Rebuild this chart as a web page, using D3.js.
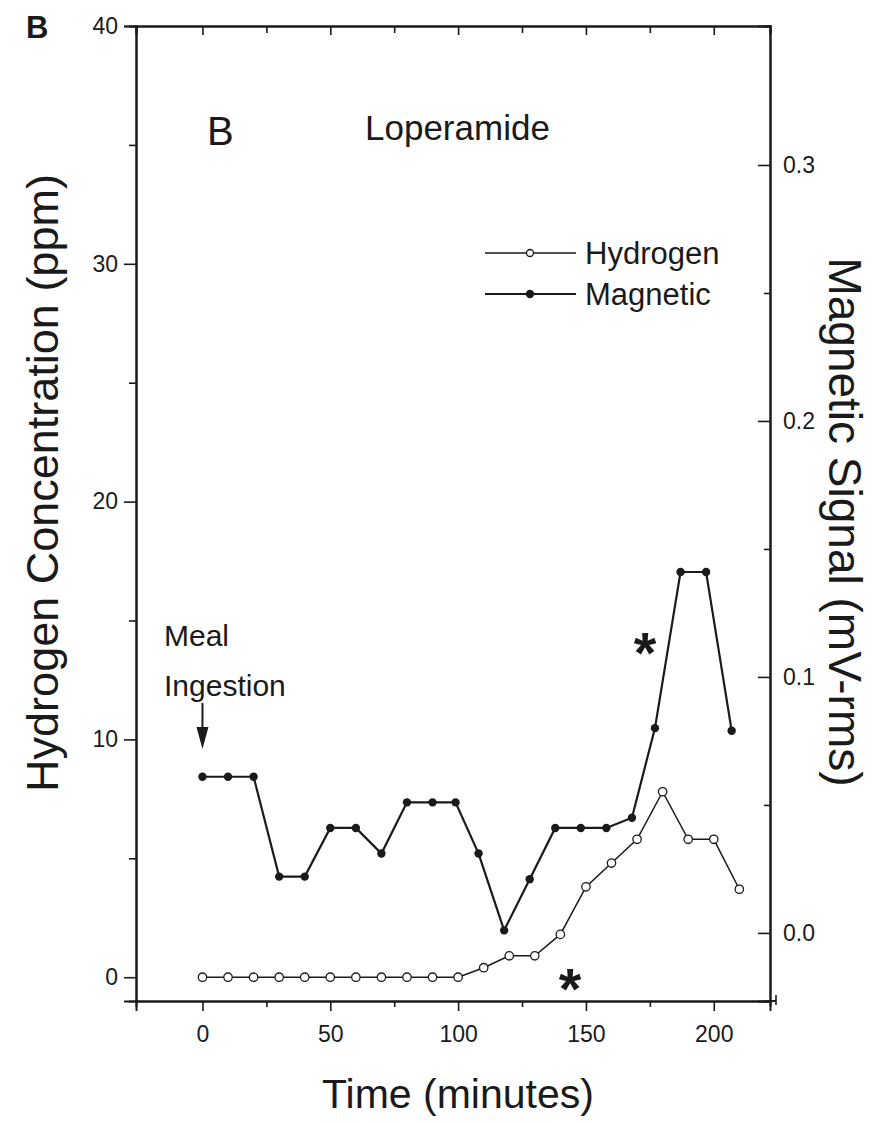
<!DOCTYPE html>
<html>
<head>
<meta charset="utf-8">
<script src="https://cdn.jsdelivr.net/npm/d3@7"></script>
<style>
  html, body { margin: 0; padding: 0; background: #fff; }
  svg { display: block; }
  text { font-family: "Liberation Sans", Arial, sans-serif; fill: #1a1a1a; }
</style>
</head>
<body>
<svg id="chart" width="881" height="1123"></svg>
<script>
// ---- data ----
const hydrogenTimes = [0,10,20,30,40,50,60,70,80,90,100,110,120,130,140,150,160,170,180,190,200,210];
const hydrogenPpm   = [0,0,0,0,0,0,0,0,0,0,0,0.4,0.9,0.9,1.8,3.8,4.8,5.8,7.8,5.8,5.8,3.7];
const magneticTimes = [0,10,20,30,40,50,60,70,80,90,99,108,118,128,138,148,158,168,177,187,197,207];
const magneticMv    = [0.061,0.061,0.061,0.022,0.022,0.041,0.041,0.031,0.051,0.051,0.051,0.031,0.001,0.021,0.041,0.041,0.041,0.045,0.080,0.141,0.141,0.079];
const xTicks = [0,50,100,150,200];
const xMinorTicks = [25,75,125,175];
const leftTicks = [0,10,20,30,40];
const leftMinorTicks = [5,15,25,35];
const rightTicks = [0,0.1,0.2,0.3];
const rightMinorTicks = [0.05,0.15,0.25];
const seriesNames = ["Hydrogen","Magnetic"];

const svg = d3.select("#chart");
const ink = "#1a1a1a";

const L = 136, R = 770, T = 26, B = 1001;
const x = d3.scaleLinear().domain([-26, 222]).range([L, R]);
const yH = d3.scaleLinear().domain([-1, 40]).range([B, T]);
const yM = d3.scaleLinear().domain([-0.0266, 0.3543]).range([B, T]);

const tickFont = "23px";

// left axis
svg.append("g").attr("transform", `translate(${L},0)`)
  .call(d3.axisLeft(yH).tickValues(leftTicks).tickSize(12).tickPadding(6).tickFormat(d3.format("d")));
svg.append("g").attr("transform", `translate(${L},0)`)
  .call(d3.axisLeft(yH).tickValues(leftMinorTicks).tickSize(7).tickFormat(""));
// bottom axis
svg.append("g").attr("transform", `translate(0,${B})`)
  .call(d3.axisBottom(x).tickValues(xTicks).tickSize(10).tickPadding(15).tickFormat(d3.format("d")));
svg.append("g").attr("transform", `translate(0,${B})`)
  .call(d3.axisBottom(x).tickValues(xMinorTicks).tickSize(6).tickFormat(""));
// top axis (inward ticks)
svg.append("g").attr("transform", `translate(0,${T})`)
  .call(d3.axisTop(x).tickValues(xTicks).tickSize(-9).tickFormat(""));
svg.append("g").attr("transform", `translate(0,${T})`)
  .call(d3.axisTop(x).tickValues(xMinorTicks).tickSize(-7).tickFormat(""));
// right axis (inward ticks, labels outside)
const gR = svg.append("g").attr("transform", `translate(${R},0)`)
  .call(d3.axisRight(yM).tickValues(rightTicks).tickSize(-12).tickPadding(12).tickFormat(d3.format(".1f")));
svg.append("g").attr("transform", `translate(${R},0)`)
  .call(d3.axisRight(yM).tickValues(rightMinorTicks).tickSize(-6).tickFormat(""));

svg.selectAll(".domain").attr("stroke", ink).attr("stroke-width", 2);
svg.selectAll(".tick line").attr("stroke", ink).attr("stroke-width", 1.6);
svg.selectAll(".tick text").attr("font-size", tickFont).attr("fill", ink)
  .attr("font-family", "Liberation Sans, Arial, sans-serif");
gR.selectAll(".tick text").attr("x", 13).attr("text-anchor", "start");
// small hook at bottom-right end of x axis
svg.append("line").attr("x1", 776).attr("x2", 776).attr("y1", B - 6).attr("y2", B + 4)
  .attr("stroke", ink).attr("stroke-width", 1.6);
svg.append("line").attr("x1", R).attr("x2", 776).attr("y1", B).attr("y2", B)
  .attr("stroke", ink).attr("stroke-width", 2);

// lines
const lineH = d3.line().x((d, i) => x(hydrogenTimes[i])).y(d => yH(d));
const lineM = d3.line().x((d, i) => x(magneticTimes[i])).y(d => yM(d));

svg.append("path").datum(hydrogenPpm).attr("d", lineH)
  .attr("fill", "none").attr("stroke", ink).attr("stroke-width", 1.5);
svg.append("path").datum(magneticMv).attr("d", lineM)
  .attr("fill", "none").attr("stroke", ink).attr("stroke-width", 2.2);

svg.append("g").selectAll("circle").data(hydrogenPpm).join("circle")
  .attr("cx", (d, i) => x(hydrogenTimes[i])).attr("cy", d => yH(d)).attr("r", 4.2)
  .attr("fill", "#fff").attr("stroke", ink).attr("stroke-width", 1.3);
svg.append("g").selectAll("circle").data(magneticMv).join("circle")
  .attr("cx", (d, i) => x(magneticTimes[i])).attr("cy", d => yM(d)).attr("r", 4.2)
  .attr("fill", ink);

// legend
const legY = [253, 294];
seriesNames.forEach((name, i) => {
  const g = svg.append("g");
  g.append("line").attr("x1", 485).attr("x2", 576).attr("y1", legY[i]).attr("y2", legY[i])
    .attr("stroke", ink).attr("stroke-width", i === 0 ? 1.5 : 2);
  g.append("circle").attr("cx", 530).attr("cy", legY[i]).attr("r", 3.5)
    .attr("fill", i === 0 ? "#fff" : ink).attr("stroke", ink).attr("stroke-width", 1.3);
  g.append("text").attr("x", 585).attr("y", legY[i] + 11).attr("font-size", "31px").text(name);
});

// titles / labels
svg.append("text").attr("x", 26).attr("y", 38).attr("font-size", "31px").attr("font-weight", "bold").text("B");
svg.append("text").attr("x", 207).attr("y", 145).attr("font-size", "40px").text("B");
svg.append("text").attr("x", 365).attr("y", 140).attr("font-size", "35px").text("Loperamide");

svg.append("text").attr("transform", "translate(58,483) rotate(-90)").attr("text-anchor", "middle")
  .attr("font-size", "45px").text("Hydrogen Concentration (ppm)");
svg.append("text").attr("transform", "translate(829,522) rotate(90)").attr("text-anchor", "middle")
  .attr("font-size", "46px").text("Magnetic Signal (mV-rms)");
svg.append("text").attr("x", 458).attr("y", 1108).attr("text-anchor", "middle")
  .attr("font-size", "41px").text("Time (minutes)");

// annotation: meal ingestion
svg.append("text").attr("x", 164).attr("y", 646).attr("font-size", "30px").text("Meal");
svg.append("text").attr("x", 164).attr("y", 696).attr("font-size", "30px").text("Ingestion");
svg.append("line").attr("x1", x(0)).attr("x2", x(0)).attr("y1", 703).attr("y2", 730)
  .attr("stroke", ink).attr("stroke-width", 2);
svg.append("path").attr("d", `M${x(0)-6},727 L${x(0)+6},727 L${x(0)},749 Z`).attr("fill", ink);

// significance asterisks
svg.append("text").attr("x", 645).attr("y", 673).attr("text-anchor", "middle").attr("font-size", "58px").attr("font-weight", "bold").text("*");
svg.append("text").attr("x", 570).attr("y", 1009).attr("text-anchor", "middle").attr("font-size", "58px").attr("font-weight", "bold").text("*");
</script>
</body>
</html>
